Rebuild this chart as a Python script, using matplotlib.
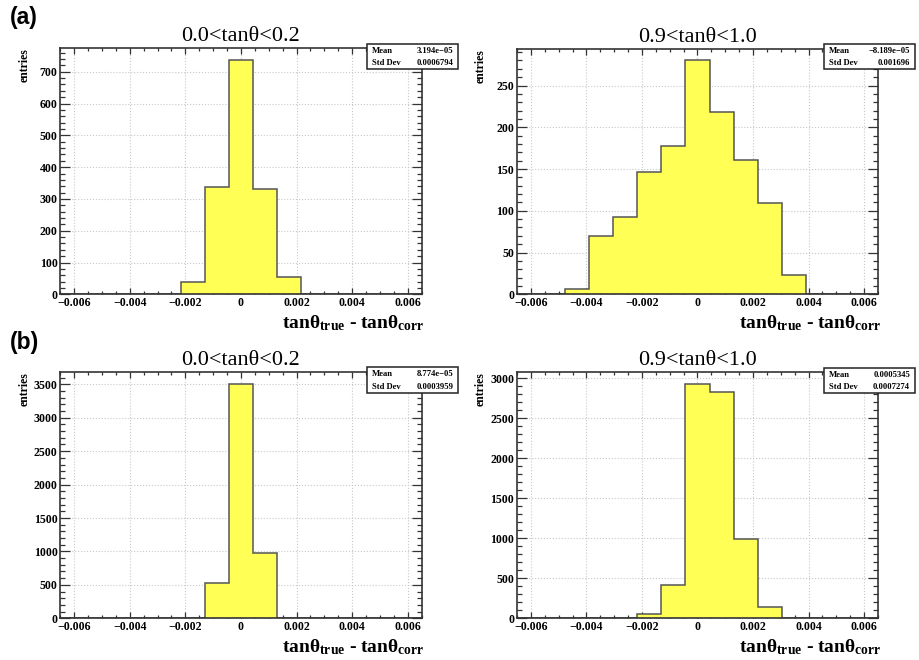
import numpy as np
import matplotlib
matplotlib.use("Agg")
import matplotlib.pyplot as plt
from matplotlib.patches import Rectangle
from matplotlib.ticker import MultipleLocator, AutoMinorLocator, FuncFormatter

plt.rcParams["mathtext.fontset"] = "custom"
plt.rcParams["mathtext.rm"] = "Liberation Serif:bold"
plt.rcParams["mathtext.bf"] = "Liberation Serif:bold"
plt.rcParams["mathtext.it"] = "Liberation Serif:bold"

# 15 equal bins on [-0.0065, 0.0065]
bin_edges = np.linspace(-0.0065, 0.0065, 16)

titles = ["0.0<tanθ<0.2", "0.9<tanθ<1.0", "0.0<tanθ<0.2", "0.9<tanθ<1.0"]
counts_a_low = [0, 0, 0, 0, 0, 38, 338, 737, 332, 55, 0, 0, 0, 0, 0]
counts_a_high = [0, 0, 6, 70, 93, 147, 178, 280, 218, 161, 109, 23, 0, 0, 0]
counts_b_low = [0, 0, 0, 0, 0, 0, 528, 3504, 972, 0, 0, 0, 0, 0, 0]
counts_b_high = [0, 0, 0, 0, 0, 58, 412, 2925, 2829, 992, 137, 0, 0, 0, 0]
means = ["3.194e\u221205", "\u22128.189e\u221205", "8.774e\u221205", "0.0005345"]
std_devs = ["0.0006794", "0.001696", "0.0003959", "0.0007274"]
y_major = [100, 50, 500, 500]
panel_labels = ["(a)", "(b)"]

all_counts = [counts_a_low, counts_a_high, counts_b_low, counts_b_high]

W, H = 919, 660
fig = plt.figure(figsize=(W / 100, H / 100), dpi=100)


def fx(px):
    return px / W


def fy(py):
    return 1 - py / H


# axes frames in pixel units (left, top, right, bottom)
frames = [
    (60.3, 48.3, 421.7, 294.3),
    (517.0, 48.8, 878.0, 294.3),
    (60.3, 372.3, 421.7, 618.3),
    (517.0, 372.3, 878.0, 618.3),
]
stat_boxes = [
    (367.3, 44.3, 458.3, 68.7),
    (824.3, 44.3, 915.0, 69.0),
    (367.3, 366.7, 458.3, 393.3),
    (824.3, 367.7, 915.0, 393.0),
]

serif = "Liberation Serif"
yellow = "#ffff55"
edge = "#555555"


def xfmt(v, pos):
    if abs(v) < 1e-12:
        return "0"
    return f"{v:.3f}".replace("-", "\u2212")


for i, (counts, (l, t, r, b)) in enumerate(zip(all_counts, frames)):
    ax = fig.add_axes([fx(l), fy(b), fx(r - l), (b - t) / H])
    counts = np.asarray(counts, dtype=float)
    ax.stairs(counts, bin_edges, fill=True, facecolor=yellow, edgecolor="none", zorder=2)
    ax.stairs(counts, bin_edges, baseline=0, fill=False, edgecolor=edge, linewidth=1.1, zorder=3)
    ax.set_xlim(-0.0065, 0.0065)
    ax.set_ylim(0, counts.max() * 1.05)

    ax.xaxis.set_major_locator(MultipleLocator(0.002))
    ax.xaxis.set_minor_locator(MultipleLocator(0.0005))
    ax.yaxis.set_major_locator(MultipleLocator(y_major[i]))
    ax.yaxis.set_minor_locator(AutoMinorLocator(5))
    ax.xaxis.set_major_formatter(FuncFormatter(xfmt))
    ax.yaxis.set_major_formatter(FuncFormatter(lambda v, p: f"{int(round(v))}"))

    ax.tick_params(axis="both", which="both", direction="in", top=True, right=True,
                   color="#333333", width=0.9)
    ax.tick_params(axis="x", which="major", length=4.5, pad=2)
    ax.tick_params(axis="x", which="minor", length=2.3)
    ax.tick_params(axis="y", which="major", length=7.5, pad=2)
    ax.tick_params(axis="y", which="minor", length=3.8)
    for lab in ax.get_xticklabels() + ax.get_yticklabels():
        lab.set_fontfamily(serif)
        lab.set_fontweight("bold")
        lab.set_fontsize(8.6)

    ax.grid(True, which="major", linestyle=":", color="#c8c8c8", linewidth=0.8, zorder=0)
    ax.set_axisbelow(True)
    for sp in ax.spines.values():
        sp.set_color("#333333")
        sp.set_linewidth(1.2)
        sp.set_zorder(5)

    ax.set_title(titles[i], fontsize=16, family=serif, pad=5)
    ax.set_ylabel("entries", loc="top", fontsize=8.5, family=serif, fontweight="bold")
    ax.yaxis.set_label_coords(-30 / (r - l), 1)
    ax.set_xlabel(r"tanθ$_{\mathbf{true}}$ - tanθ$_{\mathbf{corr}}$", loc="right",
                  fontsize=14, family=serif, fontweight="bold")
    ax.xaxis.set_label_coords(1 + 3 / (r - l), -29 / (b - t))
    ax.xaxis.label.set_verticalalignment("center")

    # statistics box
    bl, bt, br, bb = stat_boxes[i]
    fig.add_artist(Rectangle((fx(bl), fy(bb)), fx(br - bl), (bb - bt) / H,
                             transform=fig.transFigure, facecolor="white",
                             edgecolor="#222222", linewidth=1.1, zorder=10))
    row1 = bt + (bb - bt) * 0.27
    row2 = bt + (bb - bt) * 0.76
    for yy, name, val in [(row1, "Mean", means[i]), (row2, "Std Dev", std_devs[i])]:
        fig.text(fx(bl + 4.5), fy(yy), name, ha="left", va="center", fontsize=6.2,
                 family=serif, fontweight="bold", zorder=11)
        fig.text(fx(br - 5), fy(yy), val, ha="right", va="center", fontsize=6.2,
                 family=serif, fontweight="bold", zorder=11)

# panel letters
fig.text(fx(10), fy(17.5), panel_labels[0], ha="left", va="center", fontsize=16.5,
         family="Liberation Sans", fontweight="bold")
fig.text(fx(10), fy(342.5), panel_labels[1], ha="left", va="center", fontsize=16.5,
         family="Liberation Sans", fontweight="bold")

fig.savefig("out.png", dpi=100)
